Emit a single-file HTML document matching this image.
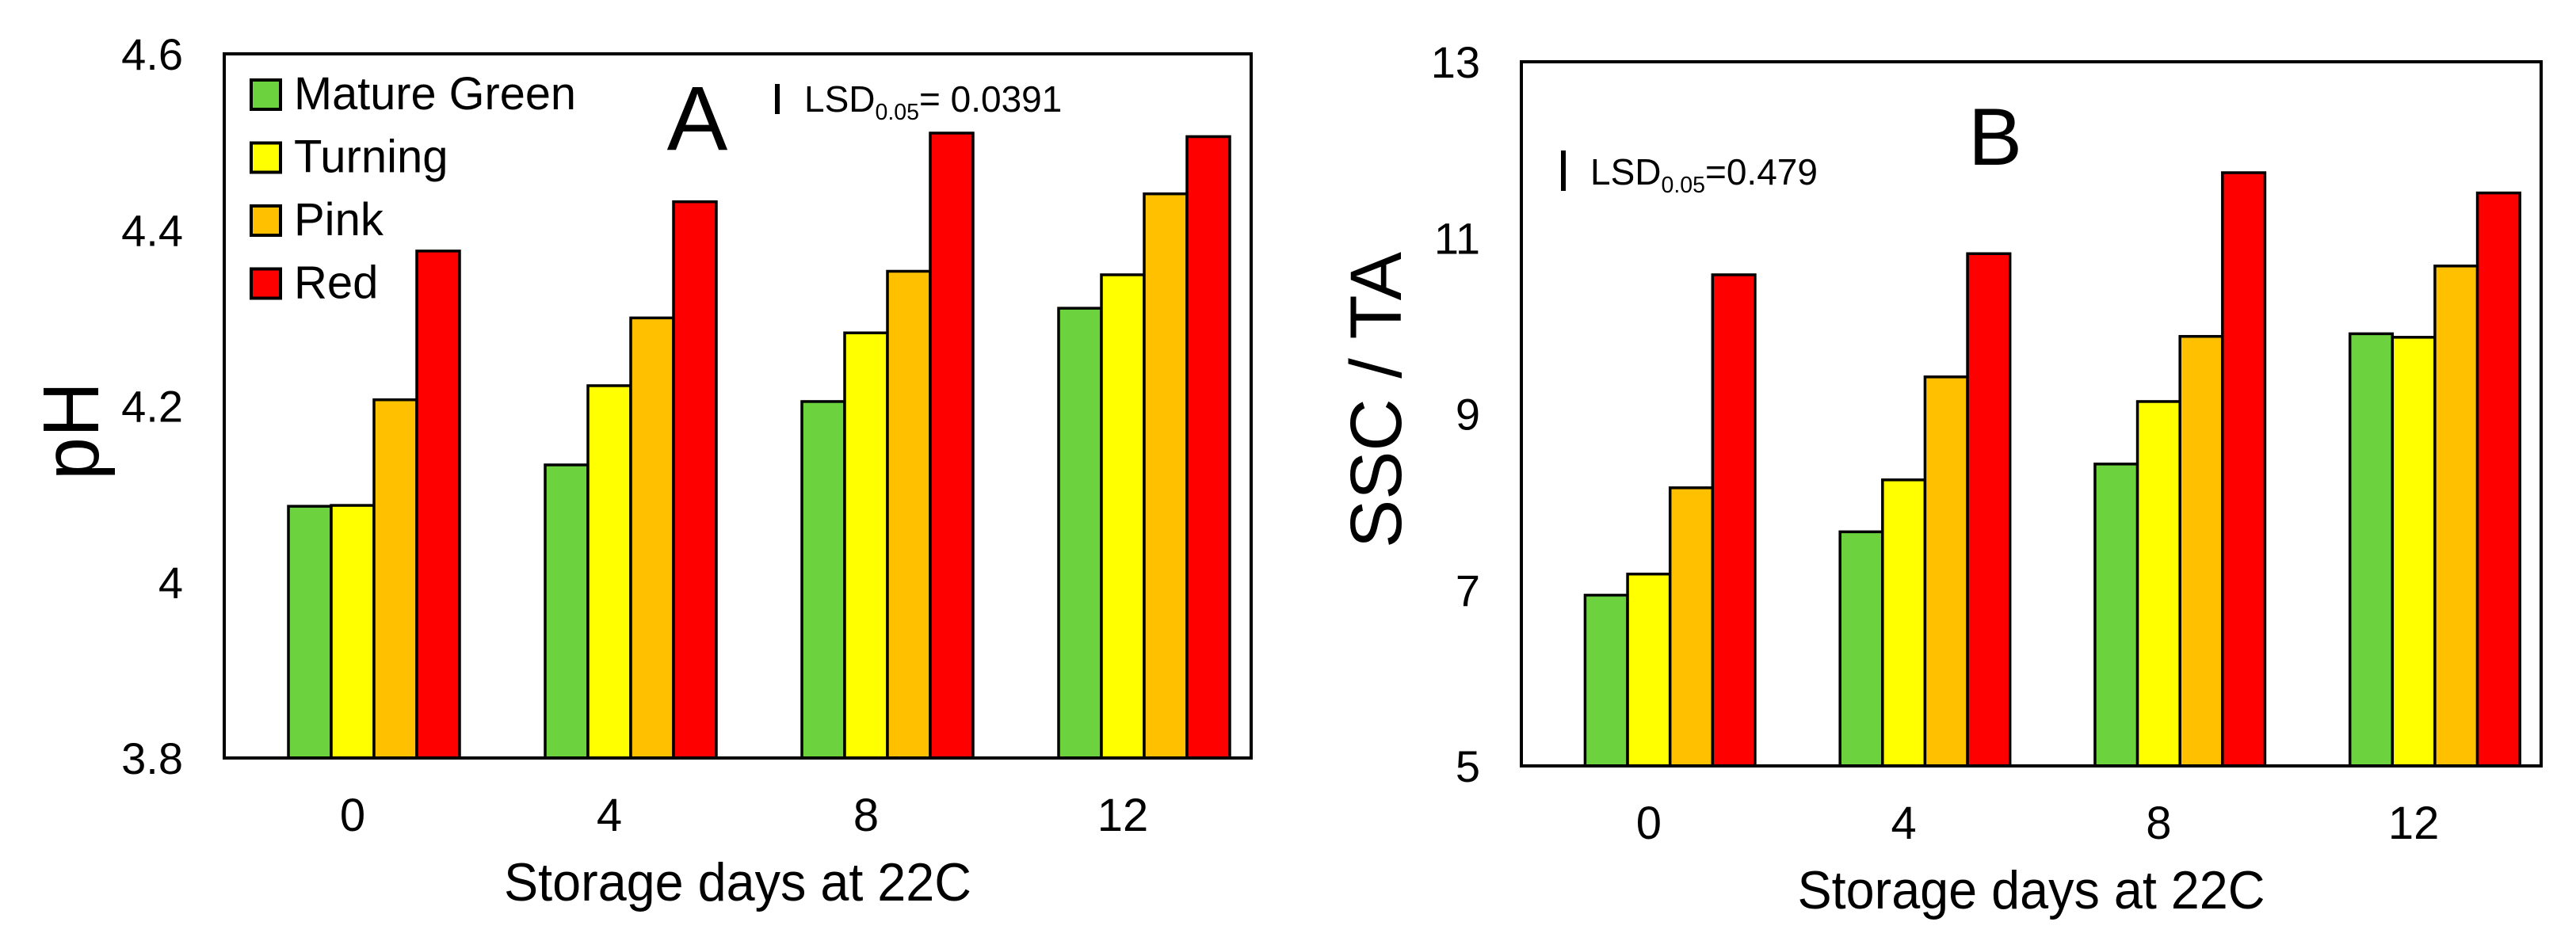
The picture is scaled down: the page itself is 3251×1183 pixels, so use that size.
<!DOCTYPE html>
<html><head><meta charset="utf-8"><style>
html,body{margin:0;padding:0;background:#fff;}
svg{display:block;font-family:"Liberation Sans",sans-serif;}
</style></head><body>
<svg id="fig" width="3251" height="1183" viewBox="0 0 3251 1183">
<rect width="3251" height="1183" fill="#fff"/>
<g id="chartA"></g>
<g id="chartB"></g>
</svg>
<script>
const categories = ["0", "4", "8", "12"];
const seriesNames = ["Mature Green", "Turning", "Pink", "Red"];
const seriesColors = ["#6cd33f", "#ffff00", "#ffc000", "#ff0000"];
const phMatureGreen = [4.086, 4.133, 4.205, 4.311];
const phTurning = [4.087, 4.223, 4.283, 4.349];
const phPink = [4.207, 4.300, 4.353, 4.441];
const phRed = [4.376, 4.432, 4.510, 4.506];
const phTicks = [3.8, 4, 4.2, 4.4, 4.6];
const phTickLabels = ["3.8", "4", "4.2", "4.4", "4.6"];
const ratioMatureGreen = [6.94, 7.66, 8.43, 9.91];
const ratioTurning = [7.18, 8.25, 9.14, 9.87];
const ratioPink = [8.16, 9.42, 9.88, 10.68];
const ratioRed = [10.58, 10.82, 11.74, 11.51];
const ratioTicks = [5, 7, 9, 11, 13];
const ratioTickLabels = ["5", "7", "9", "11", "13"];

const NS = "http://www.w3.org/2000/svg";
function mk(parent, tag, attrs, text) {
  const e = document.createElementNS(NS, tag);
  for (const k in attrs) e.setAttribute(k, attrs[k]);
  if (text !== undefined) e.textContent = text;
  parent.appendChild(e);
  return e;
}

function drawChart(g, cfg) {
  const L = cfg.left, R = cfg.right, T = cfg.top, B = cfg.bottom;
  const yMin = cfg.ticks[0], yMax = cfg.ticks[cfg.ticks.length - 1];
  const yScale = v => B - (v - yMin) / (yMax - yMin) * (B - T);
  const groupW = (R - L) / categories.length;
  const xCenter = i => L + groupW * (i + 0.5);
  const bw = groupW / 6;
  cfg.series.forEach((vals, s) => {
    vals.forEach((v, i) => {
      const x = xCenter(i) - 1.5 * bw + s * bw;
      const y = yScale(v);
      const r = mk(g, "rect", {x: x, y: y, width: bw, height: B - y, fill: seriesColors[s], stroke: "#000", "stroke-width": 3.5});
      
      
    });
  });
  const fr = mk(g, "rect", {x: L, y: T, width: R - L, height: B - T, fill: "none", stroke: "#000", "stroke-width": 4});
  
  
  cfg.ticks.forEach((t, i) => {
    const tx = mk(g, "text", {x: L - 52, y: yScale(t) + 20, "text-anchor": "end", "font-size": 56, fill: "#000"}, cfg.tickLabels[i]);
    
    
  });
  categories.forEach((c, i) => {
    const tx = mk(g, "text", {x: xCenter(i), y: B + 92, "text-anchor": "middle", "font-size": 58, fill: "#000"}, c);
    
    
  });
  const xt = mk(g, "text", {x: (L + R) / 2, y: B + 180, "text-anchor": "middle", "font-size": 68, textLength: 590, lengthAdjust: "spacingAndGlyphs", fill: "#000"}, "Storage days at 22C");
  
  
  const yt = mk(g, "text", {x: 0, y: 0, "text-anchor": "middle", "font-size": cfg.yTitleSize, textLength: cfg.yTitleLen, lengthAdjust: "spacingAndGlyphs", transform: "translate(" + cfg.yTitleX + "," + cfg.yTitleY + ") rotate(-90)", fill: "#000"}, cfg.yTitle);
  
  
  const pl = mk(g, "text", {x: cfg.letterX, y: cfg.letterY, "text-anchor": "middle", "font-size": cfg.letterSize, fill: "#000"}, cfg.letter);
  
  
  const lb = mk(g, "line", {x1: cfg.lsdX, x2: cfg.lsdX, y1: cfg.lsdY1, y2: cfg.lsdY2, stroke: "#000", "stroke-width": 6});
  
  
  const lt = mk(g, "text", {x: cfg.lsdX + 34, y: cfg.lsdBase, "font-size": cfg.lsdSize, fill: "#000"});
  
  
  mk(lt, "tspan", {}, "LSD");
  mk(lt, "tspan", {"font-size": cfg.lsdSize * 0.62, dy: 10}, "0.05");
  mk(lt, "tspan", {dy: -10}, cfg.lsdText);
}

drawChart(document.getElementById("chartA"), {
  left: 283, right: 1579, top: 68, bottom: 957,
  ticks: phTicks, tickLabels: phTickLabels,
  series: [phMatureGreen, phTurning, phPink, phRed],
  yTitle: "pH", yTitleSize: 100, yTitleLen: 124, yTitleX: 124, yTitleY: 544,
  letter: "A", letterX: 880, letterY: 189, letterSize: 115,
  lsdX: 981, lsdY1: 106, lsdY2: 144, lsdBase: 141, lsdSize: 46, lsdText: "= 0.0391"
});
drawChart(document.getElementById("chartB"), {
  left: 1920, right: 3207, top: 78, bottom: 967,
  ticks: ratioTicks, tickLabels: ratioTickLabels,
  series: [ratioMatureGreen, ratioTurning, ratioPink, ratioRed],
  yTitle: "SSC / TA", yTitleSize: 92, yTitleLen: 374, yTitleX: 1768, yTitleY: 505,
  letter: "B", letterX: 2518, letterY: 208, letterSize: 102,
  lsdX: 1973, lsdY1: 190, lsdY2: 241, lsdBase: 233, lsdSize: 46, lsdText: "=0.479"
});

const gA = document.getElementById("chartA");
seriesNames.forEach((n, i) => {
  const y = 101 + i * 79.5;
  const sw = mk(gA, "rect", {x: 317, y: y, width: 37, height: 37, fill: seriesColors[i], stroke: "#000", "stroke-width": 4});
  
  
  const tx = mk(gA, "text", {x: 371, y: y + 37, "font-size": 58, fill: "#000"}, n);
  
  
  if (i === 0) { tx.setAttribute("textLength", 356); tx.setAttribute("lengthAdjust", "spacingAndGlyphs"); }
});
</script>
</body></html>
